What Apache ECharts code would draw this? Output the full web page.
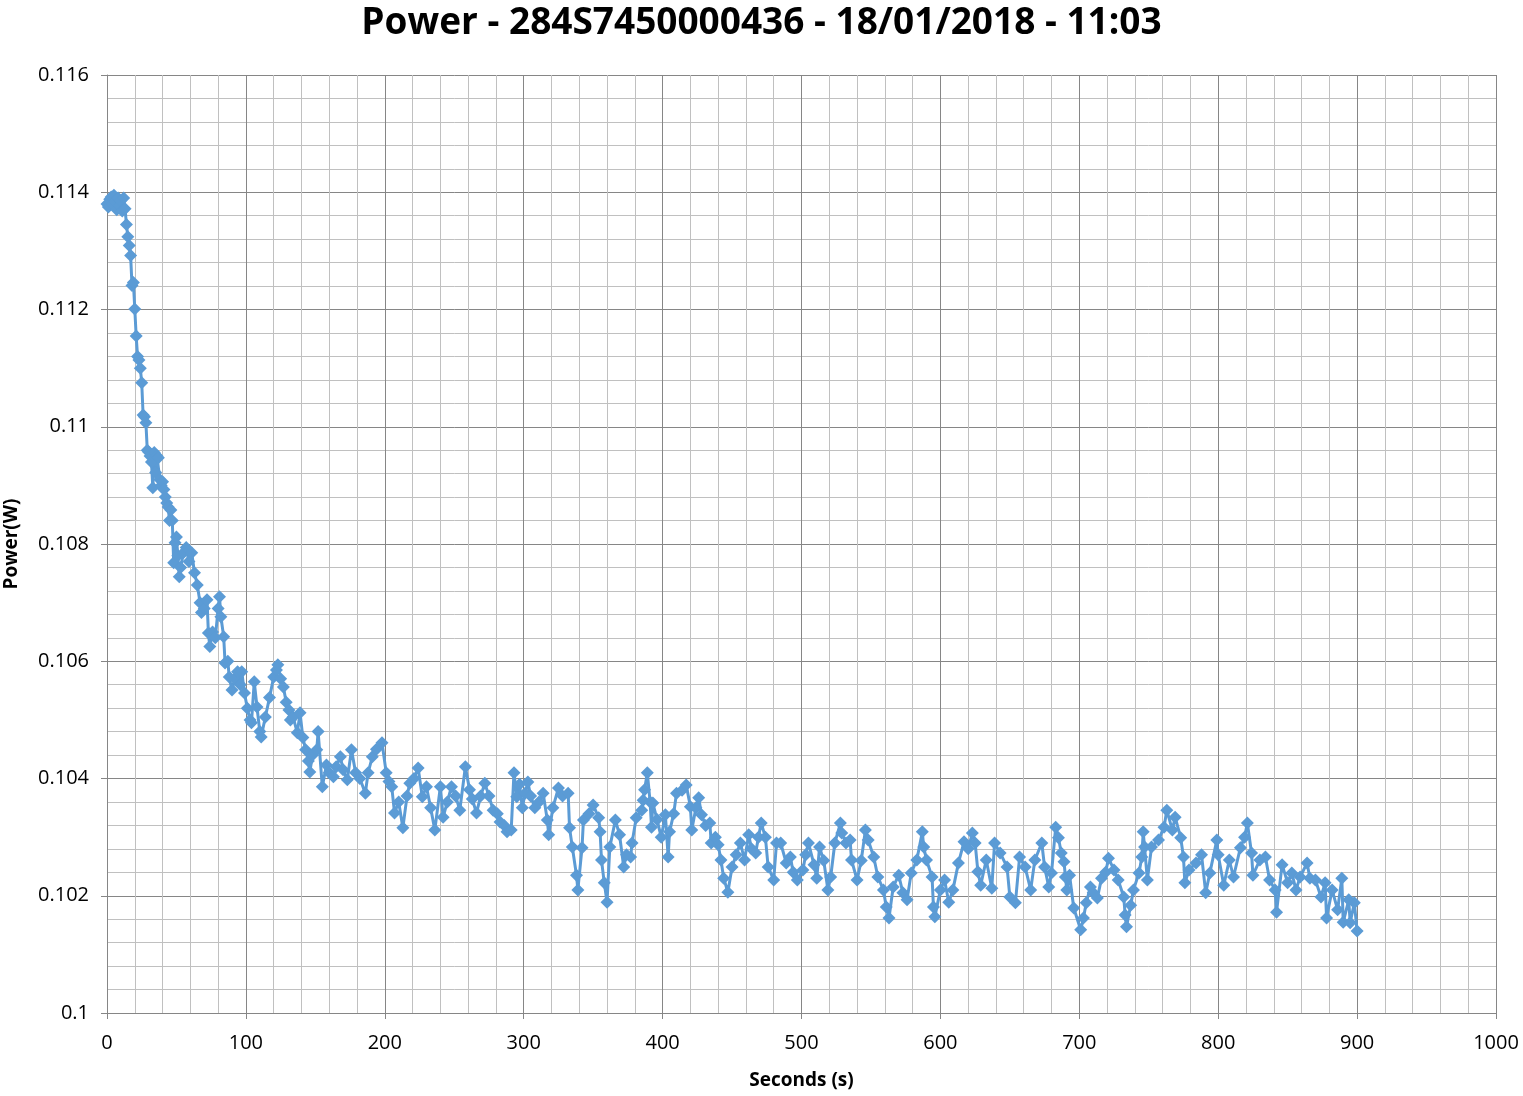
<!DOCTYPE html>
<html>
<head>
<meta charset="utf-8">
<script src="https://cdn.jsdelivr.net/npm/echarts@6/dist/echarts.min.js"></script>
<style>html,body{margin:0;padding:0;background:#fff}#c{width:1523px;height:1096px}</style>
</head>
<body>
<div id="c"></div>
<script>
const titleText = 'Power - 284S7450000436 - 18/01/2018 - 11:03';
const xName = 'Seconds (s)';
const yName = 'Power(W)';
const seconds = [0,1,2,3,4,5,6,7,8,9,10,11,12,13,14,15,16,17,18,19,20,21,22,23,24,25,26,27,28,29,30,31,32,33,34,35,36,37,38,39,40,41,42,43,44,45,46,47,48,49,50,51,52,53,55,57,59,61,63,65,67,68,70,72,73,74,76,78,80,81,82,84,85,87,88,90,92,94,96,97,99,101,103,104,106,108,110,111,114,117,120,122,123,125,127,129,131,132,134,137,139,141,143,145,146,148,151,152,155,158,160,163,165,168,170,173,176,179,182,186,188,191,194,198,201,203,205,207,210,213,216,218,221,224,227,230,233,236,240,242,245,248,251,254,258,261,263,266,269,272,275,278,281,283,286,288,291,293,295,297,299,301,303,305,308,311,314,317,318,321,325,328,332,333,335,338,339,342,343,347,350,354,355,356,358,360,362,366,369,372,374,377,378,381,385,386,387,389,391,392,393,396,399,402,404,405,408,410,414,417,420,421,424,426,428,431,434,435,438,440,442,444,447,450,453,456,459,462,464,467,469,471,474,476,480,482,485,489,492,494,497,501,503,505,509,511,513,516,519,521,524,528,529,532,535,536,540,543,546,548,552,555,559,561,563,566,570,573,576,579,583,587,588,590,594,595,596,600,603,606,609,613,617,620,623,625,627,629,633,637,639,643,648,650,654,657,661,665,668,673,675,678,680,683,685,687,689,690,691,693,696,701,703,705,708,710,713,716,719,721,725,728,732,733,734,737,739,743,745,746,747,749,752,757,761,763,767,769,773,775,776,779,784,788,791,794,799,800,804,808,811,816,819,821,824,825,830,834,837,841,842,846,850,853,856,859,864,866,870,874,877,878,882,886,889,890,894,895,898,900];
const power = [0.11380,0.11375,0.11388,0.11392,0.11380,0.11395,0.11384,0.11370,0.11390,0.11378,0.11386,0.11368,0.11390,0.11372,0.11345,0.11324,0.11309,0.11292,0.11241,0.11246,0.11201,0.11155,0.11120,0.11114,0.11100,0.11075,0.11020,0.11017,0.11007,0.10960,0.10957,0.10950,0.10940,0.10896,0.10956,0.10922,0.10950,0.10947,0.10910,0.10900,0.10906,0.10893,0.10880,0.10870,0.10863,0.10840,0.10858,0.10840,0.10768,0.10802,0.10812,0.10780,0.10744,0.10760,0.10785,0.10794,0.10770,0.10785,0.10751,0.10730,0.10700,0.10683,0.10690,0.10705,0.10648,0.10625,0.10650,0.10640,0.10690,0.10710,0.10676,0.10642,0.10597,0.10600,0.10573,0.10551,0.10570,0.10582,0.10560,0.10582,0.10546,0.10520,0.10500,0.10495,0.10565,0.10522,0.10480,0.10471,0.10505,0.10538,0.10573,0.10585,0.10594,0.10570,0.10556,0.10530,0.10517,0.10500,0.10505,0.10478,0.10512,0.10470,0.10449,0.10430,0.10411,0.10440,0.10449,0.10480,0.10386,0.10423,0.10410,0.10403,0.10420,0.10437,0.10415,0.10398,0.10449,0.10410,0.10400,0.10375,0.10410,0.10437,0.10450,0.10461,0.10410,0.10395,0.10386,0.10341,0.10360,0.10316,0.10370,0.10392,0.10400,0.10418,0.10369,0.10386,0.10350,0.10312,0.10386,0.10334,0.10360,0.10386,0.10370,0.10346,0.10420,0.10381,0.10365,0.10341,0.10370,0.10392,0.10370,0.10346,0.10340,0.10326,0.10320,0.10309,0.10312,0.10410,0.10369,0.10390,0.10350,0.10375,0.10394,0.10370,0.10350,0.10360,0.10375,0.10329,0.10304,0.10350,0.10384,0.10370,0.10375,0.10316,0.10283,0.10235,0.10210,0.10282,0.10329,0.10340,0.10355,0.10333,0.10309,0.10261,0.10222,0.10189,0.10283,0.10329,0.10304,0.10249,0.10270,0.10266,0.10290,0.10333,0.10346,0.10363,0.10381,0.10410,0.10360,0.10317,0.10358,0.10330,0.10300,0.10338,0.10266,0.10309,0.10340,0.10375,0.10380,0.10389,0.10352,0.10312,0.10350,0.10367,0.10338,0.10320,0.10324,0.10290,0.10300,0.10287,0.10261,0.10230,0.10206,0.10249,0.10270,0.10290,0.10261,0.10304,0.10280,0.10273,0.10300,0.10324,0.10300,0.10249,0.10227,0.10290,0.10290,0.10256,0.10266,0.10240,0.10227,0.10244,0.10270,0.10290,0.10253,0.10230,0.10283,0.10260,0.10210,0.10232,0.10290,0.10324,0.10307,0.10290,0.10295,0.10261,0.10227,0.10260,0.10312,0.10295,0.10266,0.10232,0.10210,0.10181,0.10162,0.10215,0.10235,0.10205,0.10193,0.10239,0.10261,0.10309,0.10283,0.10261,0.10232,0.10181,0.10164,0.10210,0.10227,0.10189,0.10210,0.10256,0.10292,0.10280,0.10307,0.10290,0.10241,0.10218,0.10261,0.10213,0.10290,0.10273,0.10249,0.10198,0.10188,0.10266,0.10249,0.10210,0.10261,0.10290,0.10249,0.10215,0.10239,0.10317,0.10299,0.10273,0.10258,0.10232,0.10210,0.10235,0.10179,0.10142,0.10162,0.10188,0.10215,0.10205,0.10196,0.10230,0.10240,0.10264,0.10244,0.10227,0.10198,0.10167,0.10147,0.10184,0.10210,0.10239,0.10266,0.10309,0.10283,0.10227,0.10283,0.10295,0.10317,0.10346,0.10312,0.10334,0.10299,0.10266,0.10222,0.10244,0.10256,0.10270,0.10205,0.10239,0.10295,0.10270,0.10218,0.10261,0.10232,0.10282,0.10300,0.10324,0.10273,0.10235,0.10261,0.10266,0.10227,0.10210,0.10172,0.10253,0.10222,0.10239,0.10210,0.10232,0.10256,0.10230,0.10227,0.10198,0.10222,0.10162,0.10210,0.10176,0.10230,0.10155,0.10193,0.10154,0.10188,0.10140];

const pts = seconds.map((s, i) => [s, power[i]]);
const chart = echarts.init(document.getElementById('c'), null, {renderer: 'canvas'});
const font = 'Open Sans, Liberation Sans, sans-serif';
chart.setOption({
  animation: false,
  backgroundColor: '#ffffff',
  title: {
    text: titleText, left: 'center', top: 0,
    textStyle: {fontFamily: font, fontSize: 37, fontWeight: 'bold', color: '#000'}
  },
  grid: {left: 107, right: 27, top: 75, bottom: 83, containLabel: false, outerBoundsMode: 'none'},
  xAxis: {
    type: 'value', min: 0, max: 1000, interval: 100,
    name: xName, nameLocation: 'middle', nameGap: 58,
    nameTextStyle: {fontFamily: font, fontSize: 19, fontWeight: 'bold', color: '#000'},
    axisLine: {show: true, lineStyle: {color: '#868686', width: 1}},
    axisTick: {show: true, inside: false, length: 6, lineStyle: {color: '#868686'}},
    axisLabel: {fontFamily: font, fontSize: 20, color: '#000', margin: 20,
      formatter: v => String(v)},
    splitLine: {show: true, lineStyle: {color: '#868686', width: 1}},
    minorTick: {show: false, splitNumber: 5},
    minorSplitLine: {show: true, lineStyle: {color: '#c0c0c0', width: 1}}
  },
  yAxis: {
    type: 'value', min: 0.1, max: 0.116, interval: 0.002,
    name: yName, nameLocation: 'middle', nameGap: 86, nameRotate: 90,
    nameTextStyle: {fontFamily: font, fontSize: 19, fontWeight: 'bold', color: '#000'},
    axisLine: {show: true, lineStyle: {color: '#868686', width: 1}},
    axisTick: {show: true, inside: false, length: 6, lineStyle: {color: '#868686'}},
    axisLabel: {fontFamily: font, fontSize: 20, color: '#000', margin: 18,
      formatter: v => String(parseFloat(v.toFixed(3)))},
    splitLine: {show: true, lineStyle: {color: '#868686', width: 1}},
    minorTick: {show: false, splitNumber: 5},
    minorSplitLine: {show: true, lineStyle: {color: '#c0c0c0', width: 1}}
  },
  series: [{
    type: 'line', data: pts,
    symbol: 'diamond', symbolSize: 13, showAllSymbol: true,
    lineStyle: {color: '#5B9BD5', width: 3},
    itemStyle: {color: '#5B9BD5', borderWidth: 0}
  }]
});
</script>
</body>
</html>
